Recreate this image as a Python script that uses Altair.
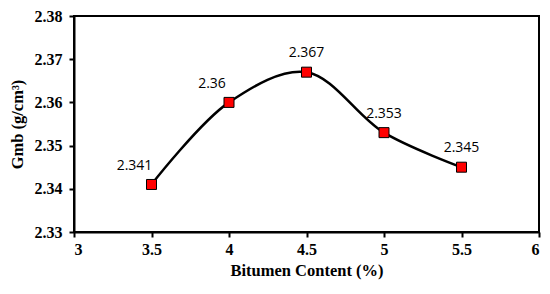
import altair as alt
import pandas as pd

bitumen = [3.5, 4.0, 4.5, 5.0, 5.5]
gmb = [2.341, 2.360, 2.367, 2.353, 2.345]
labels = ["2.341", "2.36", "2.367", "2.353", "2.345"]
label_side = ["left", "left", "center", "center", "center"]

df = pd.DataFrame({"x": bitumen, "y": gmb, "label": labels, "side": label_side})

xs = alt.Scale(domain=[3, 6], nice=False, zero=False)
ys = alt.Scale(domain=[2.33, 2.38], nice=False, zero=False)

serif = "Liberation Serif"

xaxis = alt.Axis(
    title="Bitumen Content (%)", values=[3, 3.5, 4, 4.5, 5, 5.5, 6], format="~g",
    grid=False, domainColor="black", domainWidth=2, tickColor="black", tickWidth=2,
    tickSize=5, labelFont=serif, labelFontWeight="bold", labelFontSize=16,
    labelColor="black", titleFont=serif, titleFontWeight="bold", titleFontSize=16.5,
    titleColor="black", labelPadding=4, titlePadding=5,
)
yaxis = alt.Axis(
    title="Gmb (g/cm³)", values=[2.33, 2.34, 2.35, 2.36, 2.37, 2.38], format=".2f",
    grid=False, domainColor="black", domainWidth=2, tickColor="black", tickWidth=2,
    tickSize=5, labelFont=serif, labelFontWeight="bold", labelFontSize=16,
    labelColor="black", titleFont=serif, titleFontWeight="bold", titleFontSize=16.5,
    titleColor="black", labelPadding=7, titlePadding=9,
)

base = alt.Chart(df)

line = base.mark_line(color="black", strokeWidth=2.5, interpolate="catmull-rom").encode(
    x=alt.X("x:Q", scale=xs, axis=xaxis),
    y=alt.Y("y:Q", scale=ys, axis=yaxis),
)

pts = base.mark_point(shape="square", filled=True, fill="#ff0000", stroke="black",
                      strokeWidth=1, size=100, opacity=1).encode(
    x=alt.X("x:Q", scale=xs),
    y=alt.Y("y:Q", scale=ys),
)

txt_left = base.transform_filter(alt.datum.side == "left").mark_text(
    font="Open Sans", fontSize=14, color="black", dy=-18, dx=-17
).encode(x=alt.X("x:Q", scale=xs), y=alt.Y("y:Q", scale=ys), text="label:N")

txt_center = base.transform_filter(alt.datum.side == "center").mark_text(
    font="Open Sans", fontSize=14, color="black", dy=-19
).encode(x=alt.X("x:Q", scale=xs), y=alt.Y("y:Q", scale=ys), text="label:N")

chart = (line + pts + txt_left + txt_center).properties(
    width=465, height=216,
    autosize=alt.AutoSizeParams(type="none"),
    padding={"left": 66, "top": 8, "right": 3, "bottom": 52},
    background="white",
).configure_view(stroke="black", strokeWidth=2)

chart.save("out.html", embed_options={"renderer": "svg", "actions": False})
